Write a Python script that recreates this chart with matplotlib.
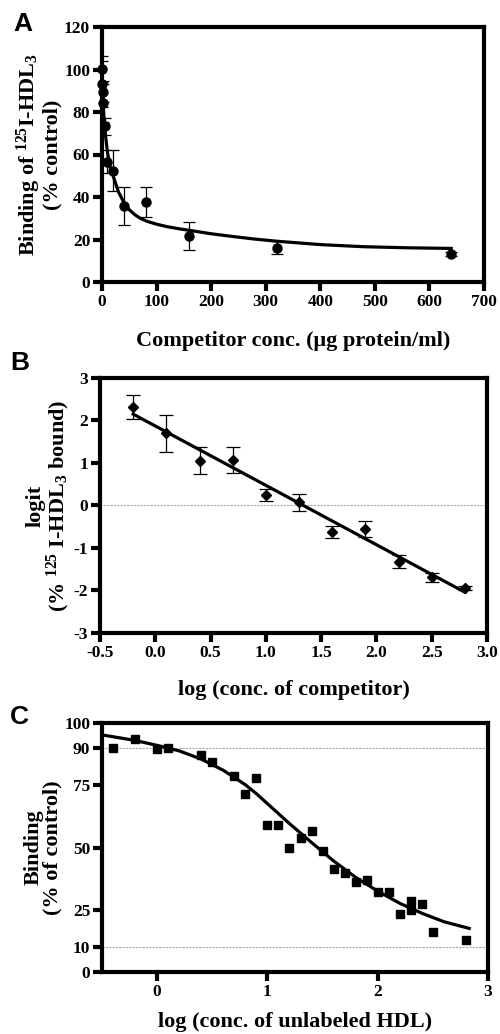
import numpy as np
import matplotlib
matplotlib.use("Agg")
import matplotlib.pyplot as plt

plt.rcParams['font.family'] = ['Liberation Serif', 'DejaVu Serif']
plt.rcParams['font.weight'] = 'bold'
plt.rcParams['axes.unicode_minus'] = False
plt.rcParams['mathtext.fontset'] = 'custom'
plt.rcParams['mathtext.rm'] = 'Liberation Serif:bold'
plt.rcParams['mathtext.it'] = 'Liberation Serif:bold'
plt.rcParams['mathtext.bf'] = 'Liberation Serif:bold'

# panel A: binding vs competitor concentration
a_x = [0, 0.625, 1.25, 2.5, 5, 10, 20, 40, 80, 160, 320, 640]
a_y = [100.2, 93.2, 89.6, 84.4, 73.4, 56.6, 52.4, 35.8, 37.5, 21.6, 16.2, 13.2]
a_err = [6, 11, 5, 9, 4, 5.5, 9.5, 9, 7, 6.5, 3.2, 1]
a_fit_x = [0, 1, 3, 6, 10, 15, 21, 30, 40, 50, 60, 70, 82, 100, 120, 140, 160,
           200, 240, 280, 320, 400, 480, 560, 640]
a_fit_y = [100, 92, 80, 70, 61, 54, 49.5, 42.5, 37.5, 34, 31.7, 30, 28.6, 27.2,
           26, 25.1, 24.3, 22.7, 21.4, 20.2, 19.2, 17.6, 16.6, 16.1, 15.8]

# panel B: logit plot
b_x = [-0.2, 0.1, 0.4, 0.7, 1.0, 1.3, 1.6, 1.9, 2.2, 2.5, 2.8]
b_y = [2.32, 1.70, 1.05, 1.07, 0.25, 0.08, -0.62, -0.55, -1.32, -1.69, -1.95]
b_err = [0.29, 0.44, 0.32, 0.30, 0.14, 0.20, 0.14, 0.18, 0.16, 0.11, 0.05]
b_fit_x = [-0.2, 2.8]
b_fit_y = [2.15, -2.04]

# panel C: binding vs log conc. of unlabeled HDL
c_x = [-0.4, -0.2, 0.0, 0.1, 0.4, 0.5, 0.7, 0.8, 0.9, 1.0, 1.1, 1.2, 1.3, 1.4,
       1.5, 1.6, 1.7, 1.8, 1.9, 2.0, 2.1, 2.2, 2.3, 2.3, 2.4, 2.5, 2.8]
c_y = [89.8, 93.4, 89.6, 89.8, 87.1, 84.5, 78.8, 71.4, 77.8, 59.0, 59.0, 49.9,
       53.8, 56.8, 48.7, 41.2, 39.9, 36.3, 37.0, 32.1, 32.1, 23.3, 28.5, 24.9,
       27.3, 16.1, 12.9]
c_fit_x = [-0.47, -0.2, 0.0, 0.2, 0.4, 0.6, 0.8, 0.9, 1.0, 1.1, 1.2, 1.4, 1.6,
           1.8, 2.0, 2.2, 2.4, 2.6, 2.83]
c_fit_y = [95, 93, 91, 88.8, 85.5, 81, 75.2, 71.6, 67.6, 63.6, 59.6, 52, 44.6,
           38, 32.5, 27.6, 23.6, 20.2, 17.5]

W, H = 500, 1034
fig = plt.figure(figsize=(W / 100, H / 100), dpi=100)


def box(l, t, r, b):
    return fig.add_axes([l / W, 1 - b / H, (r - l) / W, (b - t) / H])


def style(ax):
    for s in ax.spines.values():
        s.set_linewidth(3)
    ax.tick_params(direction='out', length=6.5, width=3, labelsize=12.5,
                   top=False, right=False, pad=2)
    for lab in ax.get_xticklabels() + ax.get_yticklabels():
        lab.set_fontweight('bold')


lab_kw = dict(fontsize=16, fontweight='bold')

# A
ax = box(102, 27, 484, 282)
ax.errorbar(a_x, a_y, yerr=a_err, fmt='none', ecolor='black', elinewidth=0.9,
            capsize=4, capthick=0.9, zorder=2)
ax.plot(a_fit_x, a_fit_y, color='black', lw=2.3, zorder=3,
        solid_joinstyle='round')
ax.plot(a_x, a_y, 'o', color='black', ms=6.5, zorder=4, clip_on=False)
ax.set_xlim(0, 700)
ax.set_ylim(0, 120)
ax.set_xticks(range(0, 701, 100))
ax.set_yticks(range(0, 121, 20))
style(ax)
ax.set_xlabel('Competitor conc. (μg protein/ml)', labelpad=15, **lab_kw)
ax.set_ylabel('Binding of $^{125}$I-HDL$_3$\n(% control)', labelpad=1,
              linespacing=0.95, **lab_kw)

# B
ax = box(100, 378, 487, 633)
ax.axhline(0, color='#aaaaaa', lw=0.8, ls=(0, (2, 1)), zorder=1)
ax.errorbar(b_x, b_y, yerr=b_err, fmt='none', ecolor='black', elinewidth=0.9,
            capsize=5, capthick=0.9, zorder=2)
ax.plot(b_fit_x, b_fit_y, color='black', lw=2.3, zorder=3)
ax.plot(b_x, b_y, 'D', color='black', ms=5.5, zorder=4)
ax.set_xlim(-0.5, 3.0)
ax.set_ylim(-3, 3)
ax.set_xticks(np.arange(-0.5, 3.01, 0.5))
ax.set_xticklabels(['%.1f' % v for v in np.arange(-0.5, 3.01, 0.5)])
ax.set_yticks(range(-3, 4))
style(ax)
ax.set_xlabel('log (conc. of competitor)', labelpad=14, **lab_kw)
ax.set_ylabel('logit\n(% $^{125}$ I-HDL$_3$ bound)', labelpad=1,
              linespacing=0.95, **lab_kw)

# C
ax = box(102, 723, 488, 972)
for yv in (10, 90):
    ax.axhline(yv, color='#aaaaaa', lw=0.8, ls=(0, (2, 1)), zorder=1)
ax.plot(c_fit_x, c_fit_y, color='black', lw=2.3, zorder=3,
        solid_joinstyle='round')
ax.plot(c_x, c_y, 's', color='black', ms=5.5, zorder=4)
ax.set_xlim(-0.5, 3)
ax.set_ylim(0, 100)
ax.set_xticks([0, 1, 2, 3])
ax.set_yticks([0, 10, 25, 50, 75, 90, 100])
style(ax)
ax.set_xlabel('log (conc. of unlabeled HDL)', labelpad=9, **lab_kw)
ax.set_ylabel('Binding\n(% of control)', labelpad=1, linespacing=0.95,
              **lab_kw)

for letter, (px, py) in zip('ABC', [(23, 24), (20, 363), (19, 717)]):
    fig.text(px / W, 1 - py / H, letter, fontsize=19, fontweight='bold',
             family='Liberation Sans', ha='center', va='center')

fig.savefig('out.png', dpi=100)
